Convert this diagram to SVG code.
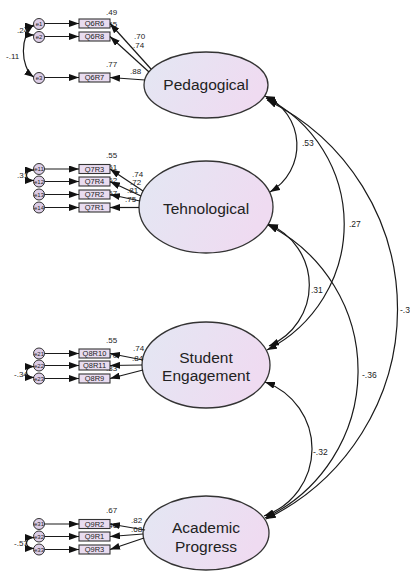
<svg xmlns="http://www.w3.org/2000/svg" width="410" height="571" viewBox="0 0 410 571">
<style>
.lat{stroke:#333;stroke-width:1.3}
.lt{font-family:"Liberation Sans",Arial,sans-serif;font-size:15.5px;fill:#222;text-anchor:middle}
.box{fill:#e9dcf0;stroke:#333;stroke-width:1.1}
.bt{font-family:"Liberation Sans",Arial,sans-serif;font-size:7.5px;fill:#222;text-anchor:middle}
.err{fill:#dccde6;stroke:#333;stroke-width:1}
.et{font-family:"Liberation Sans",Arial,sans-serif;font-size:6px;fill:#222;text-anchor:middle}
.lab{font-family:"Liberation Sans",Arial,sans-serif;font-size:8px;fill:#222}
.lab2{font-family:"Liberation Sans",Arial,sans-serif;font-size:8.5px;fill:#222}
.c{fill:none;stroke:#1a1a1a;stroke-width:1.2}
.a{marker-end:url(#ah)}
.d{marker-start:url(#ah);marker-end:url(#ah)}
.ds{marker-start:url(#ahs);marker-end:url(#ahs)}
</style>
<defs>
<linearGradient id="g" x1="0" y1="0" x2="1" y2="0.3">
<stop offset="0" stop-color="#e3e7f3"/>
<stop offset="1" stop-color="#efdbf1"/>
</linearGradient>
<marker id="ah" markerWidth="10" markerHeight="7" refX="10" refY="3.5" orient="auto-start-reverse" markerUnits="userSpaceOnUse"><path d="M0,0 L10,3.5 L0,7 z" fill="#111"/></marker>
<marker id="ahs" markerWidth="9" markerHeight="7" refX="9" refY="3.5" orient="auto-start-reverse" markerUnits="userSpaceOnUse"><path d="M0,0 L9,3.5 L0,7 z" fill="#111"/></marker>
</defs>
<rect width="410" height="571" fill="#fff"/>

<g id="r2labels">
<text class="lab" x="106" y="15">.49</text>
<text class="lab" x="106" y="27">.55</text>
<text class="lab" x="106" y="67">.77</text>
<text class="lab" x="106" y="158">.55</text>
<text class="lab" x="106" y="170">.51</text>
<text class="lab" x="106" y="183">.62</text>
<text class="lab" x="106" y="196">.57</text>
<text class="lab" x="106" y="343">.55</text>
<text class="lab" x="106" y="358">.70</text>
<text class="lab" x="106" y="371">.83</text>
<text class="lab" x="106" y="513">.67</text>
<text class="lab" x="106" y="528">.46</text>
</g>

<g id="pedagogical"><ellipse class="lat" cx="206" cy="85" rx="62" ry="33" fill="url(#g)"/><text class="lt" x="206" y="89.5">Pedagogical</text></g>
<g id="tehnological"><ellipse class="lat" cx="206" cy="207" rx="67" ry="46" fill="url(#g)"/><text class="lt" x="206" y="213.5">Tehnological</text></g>
<g id="engagement"><ellipse class="lat" cx="206" cy="365" rx="64" ry="43" fill="url(#g)"/><text class="lt" x="206" y="362.5">Student</text><text class="lt" x="206" y="380.5">Engagement</text></g>
<g id="academic"><ellipse class="lat" cx="206" cy="533" rx="63" ry="37" fill="url(#g)"/><text class="lt" x="206" y="533">Academic</text><text class="lt" x="206" y="551.5">Progress</text></g>

<g id="Q6R6"><rect class="box" x="79" y="19" width="31" height="9"/><text class="bt" x="94.5" y="26.2">Q6R6</text></g>
<g id="Q6R8"><rect class="box" x="79" y="32" width="31" height="9"/><text class="bt" x="94.5" y="39.2">Q6R8</text></g>
<g id="Q6R7"><rect class="box" x="79" y="73" width="31" height="9"/><text class="bt" x="94.5" y="80.2">Q6R7</text></g>
<g id="Q7R3"><rect class="box" x="79" y="164.5" width="31" height="9"/><text class="bt" x="94.5" y="171.7">Q7R3</text></g>
<g id="Q7R4"><rect class="box" x="79" y="177" width="31" height="9"/><text class="bt" x="94.5" y="184.2">Q7R4</text></g>
<g id="Q7R2"><rect class="box" x="79" y="190" width="31" height="9"/><text class="bt" x="94.5" y="197.2">Q7R2</text></g>
<g id="Q7R1"><rect class="box" x="79" y="203" width="31" height="9"/><text class="bt" x="94.5" y="210.2">Q7R1</text></g>
<g id="Q8R10"><rect class="box" x="79" y="349" width="31" height="9"/><text class="bt" x="94.5" y="356.2">Q8R10</text></g>
<g id="Q8R11"><rect class="box" x="79" y="361" width="31" height="9"/><text class="bt" x="94.5" y="368.2">Q8R11</text></g>
<g id="Q8R9"><rect class="box" x="79" y="374" width="31" height="9"/><text class="bt" x="94.5" y="381.2">Q8R9</text></g>
<g id="Q9R2"><rect class="box" x="79" y="519.5" width="31" height="9"/><text class="bt" x="94.5" y="526.7">Q9R2</text></g>
<g id="Q9R1"><rect class="box" x="79" y="532" width="31" height="9"/><text class="bt" x="94.5" y="539.2">Q9R1</text></g>
<g id="Q9R3"><rect class="box" x="79" y="545" width="31" height="9"/><text class="bt" x="94.5" y="552.2">Q9R3</text></g>

<g id="e1"><circle class="err" cx="39" cy="24" r="5.5"/><text class="et" x="39" y="26">e1</text></g>
<g id="e2"><circle class="err" cx="39" cy="37" r="5.5"/><text class="et" x="39" y="39">e2</text></g>
<g id="e3"><circle class="err" cx="39" cy="78" r="5.5"/><text class="et" x="39" y="80">e3</text></g>
<g id="e11"><circle class="err" cx="39" cy="169" r="5.5"/><text class="et" x="39" y="171">e11</text></g>
<g id="e12"><circle class="err" cx="39" cy="181.5" r="5.5"/><text class="et" x="39" y="183.5">e12</text></g>
<g id="e13"><circle class="err" cx="39" cy="194.5" r="5.5"/><text class="et" x="39" y="196.5">e13</text></g>
<g id="e14"><circle class="err" cx="39" cy="207.5" r="5.5"/><text class="et" x="39" y="209.5">e14</text></g>
<g id="e21"><circle class="err" cx="39" cy="353.5" r="5.5"/><text class="et" x="39" y="355.5">e21</text></g>
<g id="e22"><circle class="err" cx="39" cy="365.5" r="5.5"/><text class="et" x="39" y="367.5">e22</text></g>
<g id="e23"><circle class="err" cx="39" cy="378.5" r="5.5"/><text class="et" x="39" y="380.5">e23</text></g>
<g id="e31"><circle class="err" cx="39" cy="524" r="5.5"/><text class="et" x="39" y="526">e31</text></g>
<g id="e32"><circle class="err" cx="39" cy="536.5" r="5.5"/><text class="et" x="39" y="538.5">e32</text></g>
<g id="e33"><circle class="err" cx="39" cy="549.5" r="5.5"/><text class="et" x="39" y="551.5">e33</text></g>

<g id="connectors">
<path class="c a" d="M44.5,23.5 H79"/>
<path class="c a" d="M44.5,36.5 H79"/>
<path class="c a" d="M44.5,77.5 H79"/>
<path class="c a" d="M44.5,169 H79"/>
<path class="c a" d="M44.5,181.5 H79"/>
<path class="c a" d="M44.5,194.5 H79"/>
<path class="c a" d="M44.5,207.5 H79"/>
<path class="c a" d="M44.5,353.5 H79"/>
<path class="c a" d="M44.5,365.5 H79"/>
<path class="c a" d="M44.5,378.5 H79"/>
<path class="c a" d="M44.5,524 H79"/>
<path class="c a" d="M44.5,536.5 H79"/>
<path class="c a" d="M44.5,549.5 H79"/>
<path class="c a" d="M151,69 L110,23.5"/>
<path class="c a" d="M149,72 L110,36.5"/>
<path class="c a" d="M145,80 L110,77.5"/>
<path class="c a" d="M143,191 L110,169"/>
<path class="c a" d="M141,196 L110,181.5"/>
<path class="c a" d="M140,201 L110,194.5"/>
<path class="c a" d="M139,207.5 L110,207.5"/>
<path class="c a" d="M143,360 L110,353.5"/>
<path class="c a" d="M142,365 L110,365.5"/>
<path class="c a" d="M143,370 L110,378.5"/>
<path class="c a" d="M145,530 L110,524"/>
<path class="c a" d="M143,534 L110,536.5"/>
<path class="c a" d="M144,538 L110,549.5"/>
<path class="c ds" d="M33.5,25 C20,35 20,67 33.5,77"/>
<path class="c ds" d="M34,26 C24,26 24,35 34,35"/>
<path class="c ds" d="M34,170 C24,170 24,180.5 34,180.5"/>
<path class="c ds" d="M34,366.5 C24,366.5 24,377.5 34,377.5"/>
<path class="c ds" d="M34,537.5 C24,537.5 24,548.5 34,548.5"/>
<path class="c d" d="M265,96 A54,54 0 0 1 270,192"/>
<path class="c d" d="M266,98 A141,141 0 0 1 267,350"/>
<path class="c d" d="M267,100 A233,233 0 0 1 266,519"/>
<path class="c d" d="M268,224 A66,66 0 0 1 269,346"/>
<path class="c d" d="M268,225 A163,163 0 0 1 265,518"/>
<path class="c d" d="M265,382 A71,71 0 0 1 264,516"/>
</g>

<g id="labels">
<text class="lab" x="134" y="39">.70</text>
<text class="lab" x="133" y="47.5">.74</text>
<text class="lab" x="130" y="74">.88</text>
<text class="lab" x="6" y="59">-.11</text>
<text class="lab" x="17" y="33">.24</text>
<text class="lab" x="132" y="177">.74</text>
<text class="lab" x="130" y="185">.72</text>
<text class="lab" x="127" y="193">.81</text>
<text class="lab" x="125" y="202">.75</text>
<text class="lab" x="17" y="178">.31</text>
<text class="lab" x="133" y="351">.74</text>
<text class="lab" x="132" y="361">.84</text>
<text class="lab" x="14" y="377">-.34</text>
<text class="lab" x="131" y="523">.82</text>
<text class="lab" x="131" y="532">.68</text>
<text class="lab" x="14" y="546">-.57</text>
<text class="lab2" x="302" y="146">.53</text>
<text class="lab2" x="349" y="227">.27</text>
<text class="lab2" x="400" y="313">-.3</text>
<text class="lab2" x="311" y="293">.31</text>
<text class="lab2" x="362" y="378">-.36</text>
<text class="lab2" x="313" y="455">-.32</text>
</g>
</svg>
